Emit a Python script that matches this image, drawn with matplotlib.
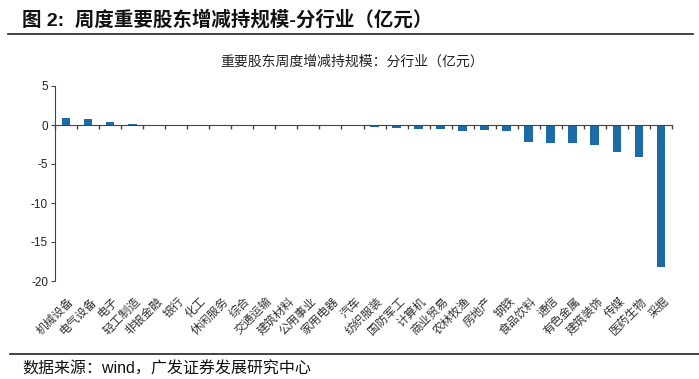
import matplotlib
matplotlib.use("Agg")
import matplotlib.pyplot as plt
from matplotlib.lines import Line2D

plt.rcParams['font.family'] = ['Liberation Sans', 'Noto Sans CJK SC']
plt.rcParams['axes.unicode_minus'] = False

# 行业与周度增减持规模（亿元）
industries = ["机械设备", "电气设备", "电子", "轻工制造", "非银金融", "银行", "化工",
              "休闲服务", "综合", "交通运输", "建筑材料", "公用事业", "家用电器", "汽车",
              "纺织服装", "国防军工", "计算机", "商业贸易", "农林牧渔", "房地产", "钢铁",
              "食品饮料", "通信", "有色金属", "建筑装饰", "传媒", "医药生物", "采掘"]
values = [0.9, 0.76, 0.34, 0.17, 0.0, 0.0, 0.0,
          0.0, 0.0, 0.0, 0.0, 0.0, 0.0, -0.08,
          -0.3, -0.38, -0.55, -0.55, -0.72, -0.68, -0.75,
          -2.15, -2.3, -2.3, -2.62, -3.4, -4.05, -18.2]
yticks = [5, 0, -5, -10, -15, -20]

fig = plt.figure(figsize=(6.99, 3.79), dpi=100)
W, H = 699, 379
ax = fig.add_axes([55 / W, 1 - 281 / H, (672 - 55) / W, (281 - 86) / H])

x = list(range(len(industries)))
ax.bar(x, values, width=0.4, color="#1c6aa6", zorder=2)

ax.set_xlim(-0.5, len(industries) - 0.5)
ax.set_ylim(-20, 5)
ax.set_yticks(yticks)
ax.set_yticklabels([str(v) for v in yticks], fontsize=8.5, color="#222222")

for s in ["top", "right"]:
    ax.spines[s].set_visible(False)
ax.spines["bottom"].set_position(("data", 0))
ax.spines["bottom"].set_color("#444444")
ax.spines["left"].set_color("#444444")
ax.spines["bottom"].set_zorder(3)

ax.set_xticks([i - 0.5 for i in range(len(industries) + 1)])
ax.set_xticklabels([])
ax.tick_params(axis="x", direction="out", length=3, width=1, color="#444444")
ax.tick_params(axis="y", direction="out", length=3, width=0.8, color="#444444", pad=2)

trans = ax.get_xaxis_transform()
for i, name in enumerate(industries):
    ax.text(i + 0.1, -0.075, name, transform=trans, rotation=45, rotation_mode="anchor",
            ha="right", va="top", fontsize=8.5, color="#333333")

# 标题与来源
fig.text(22 / W, 1 - 20 / H, "图 2:  周度重要股东增减持规模-分行业（亿元）",
         fontsize=14, fontweight="bold", color="#111111", va="center", ha="left")
fig.add_artist(Line2D([8 / W, 693 / W], [1 - 34 / H, 1 - 34 / H], color="#222222", lw=1.2))
fig.text(352 / W, 1 - 62 / H, "重要股东周度增减持规模：分行业（亿元）",
         fontsize=10, color="#222222", va="center", ha="center")
fig.add_artist(Line2D([10 / W, 699 / W], [1 - 354 / H, 1 - 354 / H], color="#222222", lw=1.2))
fig.text(22 / W, 1 - 369 / H, "数据来源：wind，广发证券发展研究中心",
         fontsize=11.5, color="#111111", va="center", ha="left")

fig.savefig("out.png", dpi=100)
